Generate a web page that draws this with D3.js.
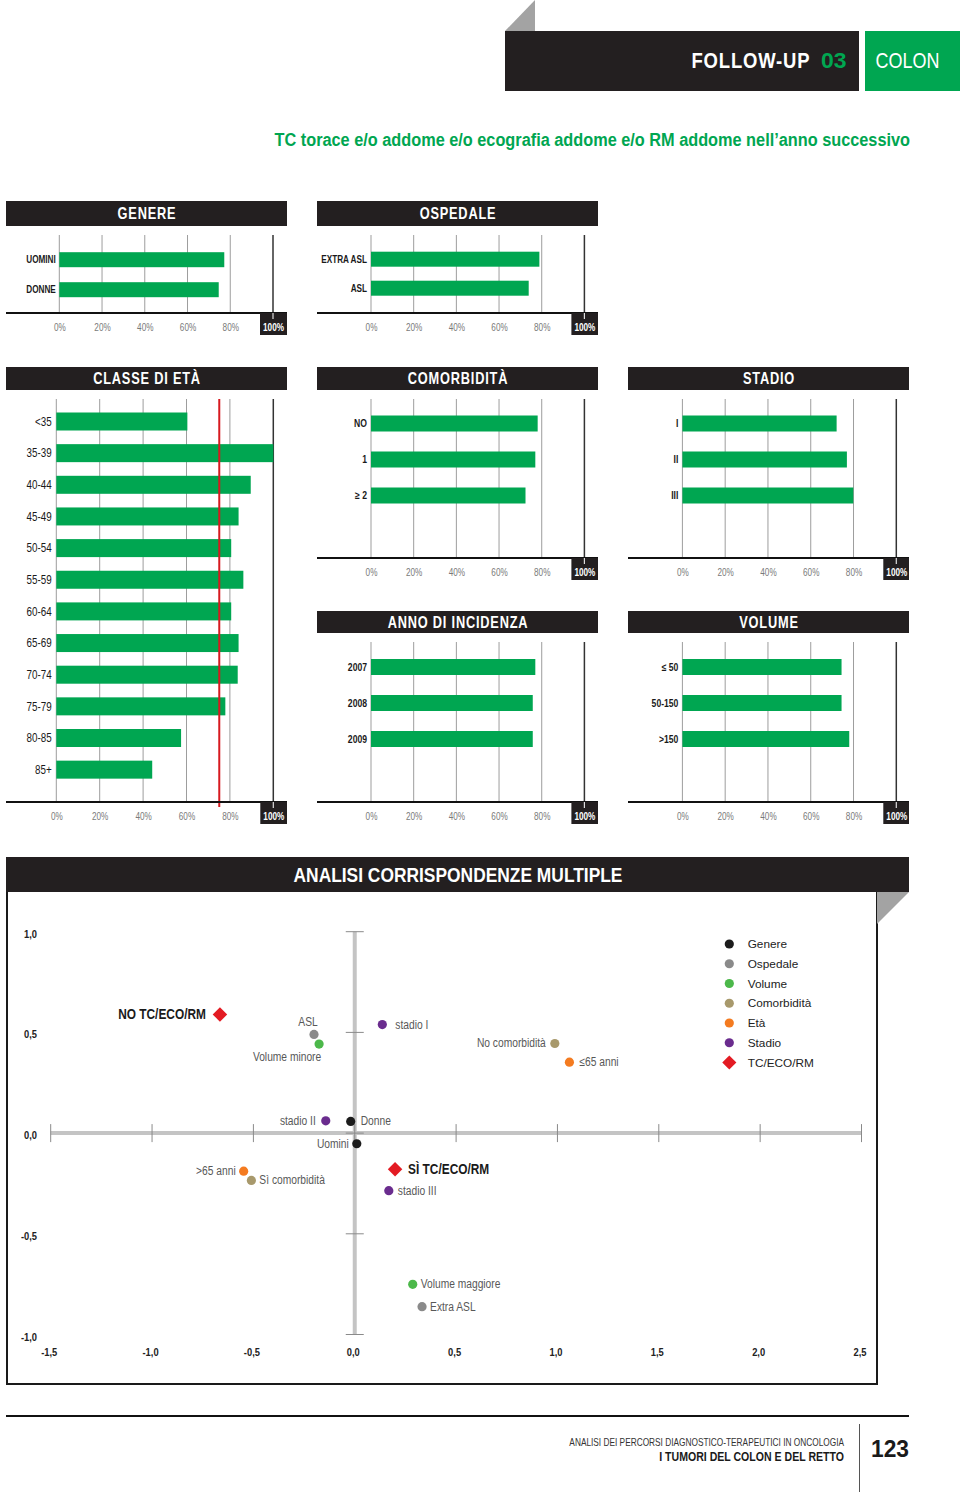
<!DOCTYPE html>
<html>
<head>
<meta charset="utf-8">
<script src="https://cdn.jsdelivr.net/npm/d3@7"></script>
<style>
  html, body { margin: 0; padding: 0; background: #fff; }
  svg { display: block; }
</style>
</head>
<body>
<script>
// ---------------- DATA ----------------
const pctTicks = [0, 20, 40, 60, 80, 100];

const genereCats = ["UOMINI", "DONNE"];
const genereVals = [77.2, 74.6];

const ospedaleCats = ["EXTRA ASL", "ASL"];
const ospedaleVals = [78.9, 73.9];

const etaCats = ["<35", "35-39", "40-44", "45-49", "50-54", "55-59", "60-64", "65-69", "70-74", "75-79", "80-85", "85+"];
const etaVals = [60.4, 100, 89.6, 84.0, 80.6, 86.2, 80.6, 84.0, 83.6, 77.9, 57.5, 44.2];
const etaRef = 75.1;

const comorbCats = ["NO", "1", "\u2265 2"];
const comorbVals = [78.1, 77.0, 72.4];

const stadioCats = ["I", "II", "III"];
const stadioVals = [72.1, 76.9, 79.9];

const annoCats = ["2007", "2008", "2009"];
const annoVals = [77.0, 75.8, 75.8];

const volumeCats = ["\u2264 50", "50-150", ">150"];
const volumeVals = [74.4, 74.4, 78.0];

const mcaNames = ["NO TC/ECO/RM", "SÌ TC/ECO/RM", "ASL", "Extra ASL", "Volume minore", "Volume maggiore",
  "stadio I", "stadio II", "stadio III", "Donne", "Uomini", "No comorbidità", "Sì comorbidità", "\u226465 anni", ">65 anni"];
const mcaX = [-0.665, 0.199, -0.201, 0.332, -0.176, 0.286, 0.136, -0.143, 0.168, -0.020, 0.010, 0.987, -0.510, 1.059, -0.548];
const mcaY = [0.589, -0.179, 0.490, -0.862, 0.442, -0.751, 0.539, 0.061, -0.286, 0.058, -0.053, 0.445, -0.235, 0.352, -0.189];
const mcaGroup = ["TC/ECO/RM", "TC/ECO/RM", "Ospedale", "Ospedale", "Volume", "Volume",
  "Stadio", "Stadio", "Stadio", "Genere", "Genere", "Comorbidità", "Comorbidità", "Età", "Età"];
const legendGroups = ["Genere", "Ospedale", "Volume", "Comorbidità", "Età", "Stadio", "TC/ECO/RM"];
const mcaXTicks = [-1.5, -1, -0.5, 0, 0.5, 1, 1.5, 2, 2.5];
const mcaYTicks = [-1, -0.5, 0, 0.5, 1];

// ---------------- STYLE ----------------
const SANS = "'Liberation Sans',Arial,Helvetica,sans-serif";
const GREEN = "#00a651";
const DARK = "#231f20";
const groupColor = {
  "Genere": "#1c1c1c", "Ospedale": "#8a8a8a", "Volume": "#4cb84a", "Comorbidità": "#a8996c",
  "Età": "#f47b20", "Stadio": "#6a2c8e", "TC/ECO/RM": "#e31b23"
};
// label placement (layout only): anchor, dx, dy, bold
const labelPos = {
  "NO TC/ECO/RM": ["end", -14, 5, true],
  "SÌ TC/ECO/RM": ["start", 13, 5, true],
  "ASL": ["middle", -6, -8],
  "Extra ASL": ["start", 8, 4],
  "Volume minore": ["middle", -32, 17],
  "Volume maggiore": ["start", 8, 4],
  "stadio I": ["start", 13, 4],
  "stadio II": ["end", -10, 4],
  "stadio III": ["start", 9, 4],
  "Donne": ["start", 10, 4],
  "Uomini": ["end", -8, 4],
  "No comorbidità": ["end", -9, 4],
  "Sì comorbidità": ["start", 8, 4],
  "\u226465 anni": ["start", 10, 4],
  ">65 anni": ["end", -8, 4]
};

// horizontal squeeze about the text's anchor point (mimics a condensed face)
function squeezeNode(node, f) {
  const x = +node.getAttribute("x") || 0, y = +node.getAttribute("y") || 0;
  node.setAttribute("transform", `translate(${x},${y}) scale(${f.toFixed(4)},1) translate(${-x},${-y})`);
}
function narrow(sel, f) { sel.each(function () { squeezeNode(this, f || 0.82); }); }
function fitWidth(sel, w) {
  sel.each(function () { const L = this.getComputedTextLength(); if (L > 0) squeezeNode(this, w / L); });
}

const W = 960, H = 1492;
const svg = d3.select("body").append("svg").attr("width", W).attr("height", H)
  .attr("font-family", SANS);

// ---------------- PAGE HEADER ----------------
svg.append("path").attr("d", "M505,31 L535,0 L535,31 Z").attr("fill", "#a3a3a3");
svg.append("rect").attr("x", 505).attr("y", 31).attr("width", 354).attr("height", 60).attr("fill", DARK);
svg.append("rect").attr("x", 865).attr("y", 31).attr("width", 95).attr("height", 60).attr("fill", GREEN);
svg.append("text").attr("x", 691.5).attr("y", 68.5).attr("fill", "#fff")
  .attr("font-weight", "bold").attr("font-size", 22).attr("letter-spacing", 1).text("FOLLOW-UP")
  .call(fitWidth, 119);
svg.append("text").attr("x", 846.5).attr("y", 68.5).attr("text-anchor", "end").attr("fill", GREEN)
  .attr("font-weight", "bold").attr("font-size", 22).text("03")
  .call(fitWidth, 25.5);
svg.append("text").attr("x", 875.5).attr("y", 68.5).attr("fill", "#fff")
  .attr("font-size", 22).text("COLON").call(fitWidth, 64);

svg.append("text").attr("x", 910).attr("y", 146).attr("text-anchor", "end").attr("fill", GREEN)
  .attr("font-weight", "bold").attr("font-size", 19)
  .text("TC torace e/o addome e/o ecografia addome e/o RM addome nell\u2019anno successivo")
  .call(fitWidth, 636);

// ---------------- BAR PANELS ----------------
function panel(p) {
  const g = svg.append("g");
  const x = d3.scaleLinear().domain([0, 100]).range([p.zx, p.hx]);
  g.append("rect").attr("x", p.x0).attr("y", p.hy0).attr("width", p.x1 - p.x0).attr("height", p.hy1 - p.hy0).attr("fill", DARK);
  g.append("text").attr("x", (p.x0 + p.x1) / 2 + 0.5).attr("y", (p.hy0 + p.hy1) / 2 + 5.8)
    .attr("text-anchor", "middle").attr("fill", "#fff")
    .attr("font-weight", "bold").attr("font-size", 16).attr("letter-spacing", 1).text(p.title)
    .call(narrow, 0.8);

  g.selectAll("line.grid").data(pctTicks).join("line").attr("class", "grid")
    .attr("x1", d => x(d)).attr("x2", d => x(d))
    .attr("y1", p.gt).attr("y2", d => d === 100 ? p.ay + 6 : p.ay)
    .attr("stroke", d => d === 100 ? "#333" : "#9d9d9d")
    .attr("stroke-width", d => d === 100 ? 1.5 : 1);

  const pad = 1 - p.bw / p.step;
  const y0 = p.c1 - p.step / 2;
  const y = d3.scaleBand().domain(p.cats).range([y0, y0 + p.cats.length * p.step]).paddingInner(pad).paddingOuter(pad / 2);
  g.selectAll("rect.bar").data(p.vals).join("rect").attr("class", "bar")
    .attr("x", x(0)).attr("y", (d, i) => y(p.cats[i]))
    .attr("width", d => x(d) - x(0)).attr("height", y.bandwidth()).attr("fill", GREEN);

  g.selectAll("text.cat").data(p.cats).join("text").attr("class", "cat")
    .attr("x", x(0) - p.lgap).attr("y", d => y(d) + y.bandwidth() / 2 + p.lsize * 0.36)
    .attr("text-anchor", "end").attr("fill", "#1a1a1a")
    .attr("font-weight", p.lbold ? "bold" : "normal").attr("font-size", p.lsize).text(d => d)
    .call(narrow, 0.82);

  if (p.ref !== undefined) {
    g.append("line").attr("x1", x(p.ref)).attr("x2", x(p.ref)).attr("y1", p.gt).attr("y2", p.ay + 5)
      .attr("stroke", "#d7191f").attr("stroke-width", 2);
  }

  g.append("line").attr("x1", p.x0).attr("x2", p.x1).attr("y1", p.ay).attr("y2", p.ay)
    .attr("stroke", "#111").attr("stroke-width", 2);
  g.append("rect").attr("x", x(100) - 13).attr("y", p.ay).attr("width", p.x1 - (x(100) - 13)).attr("height", 22).attr("fill", DARK);
  g.append("line").attr("x1", x(100)).attr("x2", x(100)).attr("y1", p.ay).attr("y2", p.ay + 6)
    .attr("stroke", "#ddd").attr("stroke-width", 1.2);

  const ax = g.append("g").attr("transform", `translate(0,${p.ay})`)
    .call(d3.axisBottom(x).tickValues(pctTicks).tickFormat(d => d + "%").tickSize(0).tickPadding(11));
  ax.select(".domain").remove();
  ax.selectAll(".tick text").attr("font-family", SANS).attr("font-size", 10)
    .attr("fill", d => d === 100 ? "#fff" : "#7a7a7a").attr("font-weight", d => d === 100 ? "bold" : "normal")
    .call(narrow, 0.82);
}

const C1 = [6, 287], C2 = [317, 598], C3 = [628, 909];
panel({ title: "GENERE", x0: C1[0], x1: C1[1], hy0: 201, hy1: 226, gt: 235, ay: 313, zx: 59.3, hx: 273,
  cats: genereCats, vals: genereVals, c1: 259.7, step: 30, bw: 15, lgap: 3.5, lsize: 10, lbold: true });
panel({ title: "OSPEDALE", x0: C2[0], x1: C2[1], hy0: 201, hy1: 226, gt: 235, ay: 313, zx: 371, hx: 584.4,
  cats: ospedaleCats, vals: ospedaleVals, c1: 259.2, step: 29, bw: 15, lgap: 4, lsize: 10, lbold: true });
panel({ title: "CLASSE DI ETÀ", x0: C1[0], x1: C1[1], hy0: 367, hy1: 390, gt: 399, ay: 802, zx: 56.3, hx: 273.3,
  cats: etaCats, vals: etaVals, c1: 421.5, step: 31.65, bw: 18, lgap: 4.6, lsize: 12, lbold: false, ref: etaRef });
panel({ title: "COMORBIDITÀ", x0: C2[0], x1: C2[1], hy0: 367, hy1: 390, gt: 399, ay: 558, zx: 371, hx: 584.4,
  cats: comorbCats, vals: comorbVals, c1: 423.5, step: 36, bw: 16, lgap: 4, lsize: 10.5, lbold: true });
panel({ title: "STADIO", x0: C3[0], x1: C3[1], hy0: 367, hy1: 390, gt: 399, ay: 558, zx: 682.4, hx: 896.3,
  cats: stadioCats, vals: stadioVals, c1: 423.5, step: 36, bw: 16, lgap: 4, lsize: 10.5, lbold: true });
panel({ title: "ANNO DI INCIDENZA", x0: C2[0], x1: C2[1], hy0: 611, hy1: 633, gt: 642, ay: 802, zx: 371, hx: 584.4,
  cats: annoCats, vals: annoVals, c1: 667, step: 36, bw: 16, lgap: 4, lsize: 10.5, lbold: true });
panel({ title: "VOLUME", x0: C3[0], x1: C3[1], hy0: 611, hy1: 633, gt: 642, ay: 802, zx: 682.4, hx: 896.3,
  cats: volumeCats, vals: volumeVals, c1: 667, step: 36, bw: 16, lgap: 4, lsize: 10.5, lbold: true });

// ---------------- MCA ----------------
const mg = svg.append("g");
mg.append("rect").attr("x", 6).attr("y", 857).attr("width", 903).attr("height", 35).attr("fill", DARK);
mg.append("text").attr("x", 458).attr("y", 882.5).attr("text-anchor", "middle").attr("fill", "#fff")
  .attr("font-weight", "bold").attr("font-size", 19.5)
  .text("ANALISI CORRISPONDENZE MULTIPLE").call(fitWidth, 329);
mg.append("path").attr("d", "M7,892 L7,1384 L877,1384 L877,892").attr("fill", "none").attr("stroke", "#1a1a1a").attr("stroke-width", 2);
mg.append("path").attr("d", "M877,892 L909,892 L877,924 Z").attr("fill", "#a3a3a3");

const mx = d3.scaleLinear().domain([-1.5, 2.5]).range([50.7, 861.5]);
const my = d3.scaleLinear().domain([-1, 1]).range([1334.5, 931.7]);

// axis lines
mg.append("line").attr("x1", mx(-1.5)).attr("x2", mx(2.5)).attr("y1", my(0)).attr("y2", my(0))
  .attr("stroke", "#c4c4c4").attr("stroke-width", 4);
mg.append("line").attr("x1", mx(0)).attr("x2", mx(0)).attr("y1", my(1)).attr("y2", my(-1))
  .attr("stroke", "#c4c4c4").attr("stroke-width", 4);
// tick marks
mg.selectAll("line.xt").data(mcaXTicks).join("line").attr("class", "xt")
  .attr("x1", d => mx(d)).attr("x2", d => mx(d)).attr("y1", my(0) - 9).attr("y2", my(0) + 9)
  .attr("stroke", "#8a8a8a").attr("stroke-width", 1);
mg.selectAll("line.yt").data(mcaYTicks).join("line").attr("class", "yt")
  .attr("x1", mx(0) - 9).attr("x2", mx(0) + 9).attr("y1", d => my(d)).attr("y2", d => my(d))
  .attr("stroke", "#8a8a8a").attr("stroke-width", 1);

const loc = d3.formatLocale({ decimal: ",", thousands: ".", grouping: [3], currency: ["", ""], minus: "-" });
const f1 = loc.format(".1f");
const xa = mg.append("g").attr("transform", "translate(-2,1345)")
  .call(d3.axisBottom(mx).tickValues(mcaXTicks).tickFormat(f1).tickSize(0).tickPadding(3));
xa.select(".domain").remove();
xa.selectAll(".tick text").attr("font-family", SANS).attr("font-weight", "bold").attr("font-size", 11).attr("fill", "#222")
  .call(narrow, 0.85);
const ya = mg.append("g").attr("transform", "translate(37,2)")
  .call(d3.axisLeft(my).tickValues(mcaYTicks).tickFormat(f1).tickSize(0).tickPadding(0));
ya.select(".domain").remove();
ya.selectAll(".tick text").attr("font-family", SANS).attr("font-weight", "bold").attr("font-size", 11).attr("fill", "#222")
  .call(narrow, 0.85);

// points
const idx = d3.range(mcaNames.length);
mg.selectAll("circle.pt").data(idx.filter(i => mcaGroup[i] !== "TC/ECO/RM")).join("circle").attr("class", "pt")
  .attr("cx", i => mx(mcaX[i])).attr("cy", i => my(mcaY[i])).attr("r", 4.6)
  .attr("fill", i => groupColor[mcaGroup[i]]);
mg.selectAll("path.dm").data(idx.filter(i => mcaGroup[i] === "TC/ECO/RM")).join("path").attr("class", "dm")
  .attr("transform", i => `translate(${mx(mcaX[i])},${my(mcaY[i])}) rotate(45)`)
  .attr("d", d3.symbol().type(d3.symbolSquare).size(105)())
  .attr("fill", i => groupColor[mcaGroup[i]]);
mg.selectAll("text.pl").data(idx).join("text").attr("class", "pl")
  .attr("x", i => mx(mcaX[i]) + labelPos[mcaNames[i]][1])
  .attr("y", i => my(mcaY[i]) + labelPos[mcaNames[i]][2])
  .attr("text-anchor", i => labelPos[mcaNames[i]][0])
  .attr("font-weight", i => labelPos[mcaNames[i]][3] ? "bold" : "normal")
  .attr("font-size", i => labelPos[mcaNames[i]][3] ? 14.5 : 12.5)
  .attr("fill", i => labelPos[mcaNames[i]][3] ? "#1a1a1a" : "#585858")
  .text(i => mcaNames[i])
  .call(narrow, 0.82);

// legend
const ly = d3.scalePoint().domain(legendGroups).range([944, 1062.5]);
const lg = mg.append("g");
lg.selectAll("circle").data(legendGroups.filter(d => d !== "TC/ECO/RM")).join("circle")
  .attr("cx", 729.3).attr("cy", d => ly(d)).attr("r", 4.6).attr("fill", d => groupColor[d]);
lg.selectAll("path").data(legendGroups.filter(d => d === "TC/ECO/RM")).join("path")
  .attr("transform", d => `translate(729.3,${ly(d)}) rotate(45)`)
  .attr("d", d3.symbol().type(d3.symbolSquare).size(100)()).attr("fill", d => groupColor[d]);
lg.selectAll("text").data(legendGroups).join("text")
  .attr("x", 747.7).attr("y", d => ly(d) + 4.2).attr("font-size", 11.8)
  .attr("fill", "#222").text(d => d);

// ---------------- FOOTER ----------------
svg.append("line").attr("x1", 6).attr("x2", 909).attr("y1", 1416).attr("y2", 1416).attr("stroke", "#111").attr("stroke-width", 2);
svg.append("line").attr("x1", 859.5).attr("x2", 859.5).attr("y1", 1424).attr("y2", 1492).attr("stroke", "#555").attr("stroke-width", 1);
svg.append("text").attr("x", 844).attr("y", 1446.5).attr("text-anchor", "end").attr("fill", "#333")
  .attr("font-size", 10.5).text("ANALISI DEI PERCORSI DIAGNOSTICO-TERAPEUTICI IN ONCOLOGIA")
  .call(fitWidth, 275);
svg.append("text").attr("x", 844).attr("y", 1461.5).attr("text-anchor", "end").attr("fill", "#1a1a1a")
  .attr("font-weight", "bold").attr("font-size", 12.5).text("I TUMORI DEL COLON E DEL RETTO")
  .call(fitWidth, 185);
svg.append("text").attr("x", 871).attr("y", 1457.5).attr("fill", "#1a1a1a")
  .attr("font-weight", "bold").attr("font-size", 23.5)
  .text("123").call(fitWidth, 38);
</script>
</body>
</html>
